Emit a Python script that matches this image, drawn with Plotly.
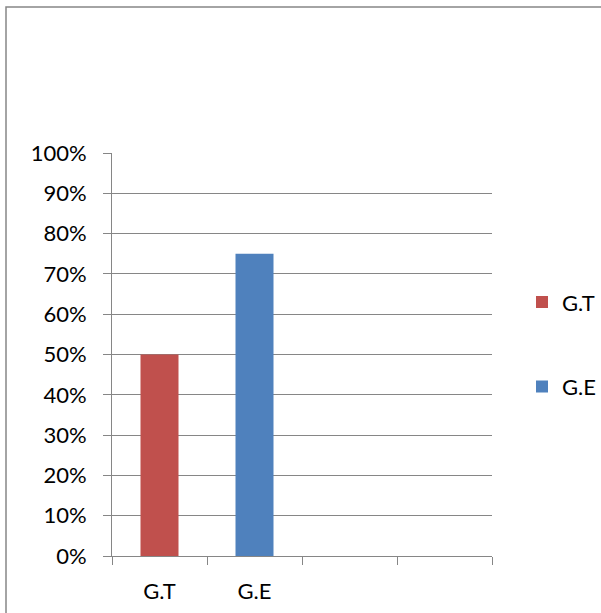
import plotly.graph_objects as go

categories = ["G.T", "G.E", " ", "  "]
series_names = ["G.T", "G.E"]
series_values = [0.50, 0.75]
series_colors = ["#C0504D", "#4F81BD"]

FONT = "Lato"
GRID = "#868686"
FS = 22

W, H = 601, 613
L, T, B = 112, 153, 57
PW = W - L  # paper width (right margin 0)
PLOT_W = 380
PH = H - T - B

fig = go.Figure()
for i, (name, val, col) in enumerate(zip(series_names, series_values, series_colors)):
    fig.add_trace(go.Bar(
        x=[categories[i]], y=[val], name=name,
        marker=dict(color=col, line=dict(width=0)),
        width=0.4, legendgroup=name,
    ))

fig.update_layout(
    width=W, height=H,
    margin=dict(l=L, r=0, t=T, b=B, autoexpand=False),
    paper_bgcolor="white", plot_bgcolor="white",
    barmode="overlay",
    font=dict(family=FONT, size=FS, color="black"),
    showlegend=True,
    legend=dict(
        x=(522 - L) / PW, xanchor="left", y=0.682, yanchor="top",
        traceorder="grouped", tracegroupgap=53,
        font=dict(family=FONT, size=FS, color="black"),
        bgcolor="rgba(0,0,0,0)",
    ),
    xaxis=dict(
        domain=[0, PLOT_W / PW],
        type="category", categoryorder="array", categoryarray=categories,
        range=[-0.5, 3.5], tickson="boundaries",
        ticks="outside", ticklen=8, tickcolor=GRID, tickwidth=1,
        showline=True, linecolor=GRID, linewidth=1,
        showgrid=False, ticklabelstandoff=16,
        tickfont=dict(family=FONT, size=FS, color="black"),
    ),
    yaxis=dict(
        range=[0, 1], dtick=0.1, tickformat=".0%",
        ticks="outside", ticklen=8, tickcolor=GRID, tickwidth=1,
        showline=True, linecolor=GRID, linewidth=1,
        showgrid=True, gridcolor=GRID, gridwidth=1,
        zeroline=False, ticklabelstandoff=12,
        tickfont=dict(family=FONT, size=FS, color="black"),
    ),
    shapes=[dict(
        type="rect", xref="paper", yref="paper",
        x0=(6 - L) / PW, x1=2.0, y0=-1.0, y1=(H - B - 7) / PH,
        line=dict(color=GRID, width=1.5), fillcolor="rgba(0,0,0,0)",
        layer="below",
    )],
)

fig.write_html("out.html", config={"displayModeBar": False},
               post_script="document.body.style.margin='0px';")
